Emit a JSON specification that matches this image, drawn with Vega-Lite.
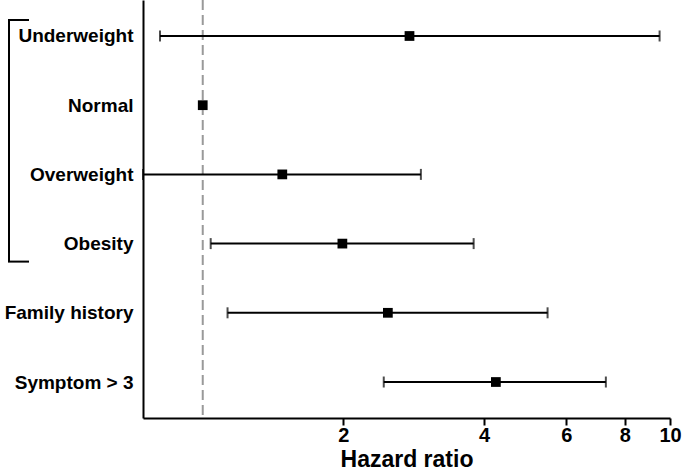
{
  "$schema": "https://vega.github.io/schema/vega-lite/v6.json",
  "autosize": "none",
  "padding": {"left": 143, "top": 0, "right": 15, "bottom": 55},
  "width": 527,
  "height": 418,
  "background": "white",
  "config": {
    "view": {"stroke": null},
    "font": "Liberation Sans"
  },
  "datasets": {
    "hr": [
      {"factor": "Underweight", "hr": 2.77, "lower": 0.81, "upper": 9.5},
      {"factor": "Normal", "hr": 1.0, "lower": null, "upper": null},
      {"factor": "Overweight", "hr": 1.48, "lower": 0.745, "upper": 2.93},
      {"factor": "Obesity", "hr": 1.99, "lower": 1.04, "upper": 3.8},
      {"factor": "Family history", "hr": 2.49, "lower": 1.13, "upper": 5.47},
      {"factor": "Symptom > 3", "hr": 4.24, "lower": 2.44, "upper": 7.29}
    ],
    "ref": [{"hr": 1}],
    "bracket": [{"from": "Underweight", "to": "Obesity"}]
  },
  "encoding": {
    "y": {
      "field": "factor",
      "type": "nominal",
      "scale": {"type": "point", "padding": 0.52, "domain": ["Underweight", "Normal", "Overweight", "Obesity", "Family history", "Symptom > 3"]},
      "axis": {
        "title": null,
        "ticks": false,
        "domainColor": "black",
        "domainWidth": 2,
        "labelFont": "Liberation Sans",
        "labelFontWeight": "bold",
        "labelFontSize": 19,
        "labelColor": "black",
        "labelPadding": 10
      }
    }
  },
  "layer": [
    {
      "data": {"name": "ref"},
      "mark": {"type": "rule", "color": "#999999", "strokeWidth": 2, "strokeDash": [10, 5]},
      "encoding": {
        "x": {"field": "hr", "type": "quantitative"},
        "y": null
      }
    },
    {
      "data": {"name": "hr"},
      "mark": {"type": "rule", "color": "black", "strokeWidth": 2},
      "encoding": {
        "x": {
          "field": "lower",
          "type": "quantitative",
          "scale": {"type": "log", "domain": [0.745, 10], "nice": false, "zero": false},
          "axis": {
            "values": [2, 4, 6, 8, 10],
            "grid": false,
            "title": "Hazard ratio",
            "titleFont": "Liberation Sans",
            "titleFontSize": 23,
            "titleFontWeight": "bold",
            "titleColor": "black",
            "titlePadding": 3,
            "titleBaseline": "top",
            "domainColor": "black",
            "domainWidth": 2,
            "tickColor": "black",
            "tickWidth": 2,
            "tickSize": 7,
            "labelFont": "Liberation Sans",
            "labelFontSize": 20,
            "labelFontWeight": "bold",
            "labelColor": "black",
            "labelPadding": 0,
            "labelFlush": false
          }
        },
        "x2": {"field": "upper"}
      }
    },
    {
      "data": {"name": "hr"},
      "mark": {"type": "tick", "color": "black", "thickness": 2, "size": 11},
      "encoding": {"x": {"field": "lower", "type": "quantitative"}}
    },
    {
      "data": {"name": "hr"},
      "mark": {"type": "tick", "color": "black", "thickness": 2, "size": 11},
      "encoding": {"x": {"field": "upper", "type": "quantitative"}}
    },
    {
      "data": {"name": "hr"},
      "mark": {"type": "square", "color": "black", "filled": true, "opacity": 1, "size": 95},
      "encoding": {"x": {"field": "hr", "type": "quantitative"}}
    },
    {
      "data": {"name": "bracket"},
      "mark": {"type": "rule", "color": "black", "strokeWidth": 2, "yOffset": -16, "y2Offset": 18, "clip": false},
      "encoding": {
        "x": {"value": -134},
        "y": {"field": "from", "type": "nominal"},
        "y2": {"field": "to"}
      }
    },
    {
      "data": {"name": "bracket"},
      "mark": {"type": "rule", "color": "black", "strokeWidth": 2, "yOffset": -16, "clip": false},
      "encoding": {
        "x": {"value": -135},
        "x2": {"value": -114},
        "y": {"field": "from", "type": "nominal"}
      }
    },
    {
      "data": {"name": "bracket"},
      "mark": {"type": "rule", "color": "black", "strokeWidth": 2, "yOffset": 18, "clip": false},
      "encoding": {
        "x": {"value": -135},
        "x2": {"value": -114},
        "y": {"field": "to", "type": "nominal"}
      }
    }
  ]
}
